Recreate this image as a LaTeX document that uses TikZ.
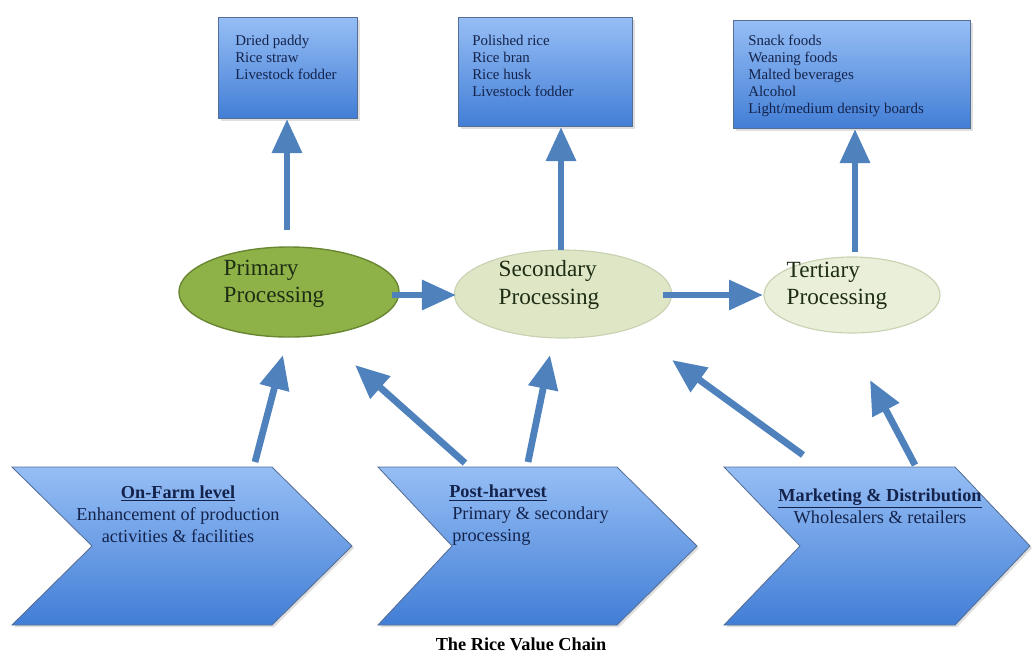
\documentclass[tikz,border=0pt]{standalone}
\usepackage{fontspec}
\setmainfont{Liberation Serif}
\usetikzlibrary{arrows.meta,shapes.geometric,shadows}
\definecolor{arrowblue}{RGB}{79,129,189}
\definecolor{boxtop}{RGB}{150,190,245}
\definecolor{boxbottom}{RGB}{66,126,214}
\definecolor{boxline}{RGB}{85,110,150}
\definecolor{inktext}{RGB}{20,35,75}
\definecolor{greendark}{RGB}{143,178,72}
\definecolor{greenline}{RGB}{105,135,50}
\definecolor{greenpale}{RGB}{222,230,198}
\definecolor{greenpaler}{RGB}{233,239,216}
\definecolor{paleline}{RGB}{200,210,178}
\definecolor{stageink}{RGB}{30,45,20}
\tikzset{
  outbox/.style={draw=boxline, line width=0.8pt, top color=boxtop, bottom color=boxbottom,
    minimum width=#1, inner sep=0pt, anchor=north west,
    drop shadow={opacity=0.25, shadow xshift=1.5pt, shadow yshift=-1.5pt}},
  outtext/.style={anchor=north west, align=left, text=inktext, font=\fontsize{10.6}{12}\selectfont, inner sep=0pt},
  stage/.style={ellipse, inner sep=0pt},
  stagetext/.style={align=left, text=stageink, font=\fontsize{16.5}{19.5}\selectfont, inner sep=0pt},
  chevron/.style={draw=boxline, line width=0.6pt, top color=boxtop, bottom color=boxbottom,
    drop shadow={opacity=0.25, shadow xshift=1.5pt, shadow yshift=-1.5pt}},
  chevtext/.style={text=inktext, font=\fontsize{13}{15.5}\selectfont, inner sep=0pt},
  flow/.style={draw=arrowblue, line width=0.17cm, -{Triangle[width=0.72cm,length=0.85cm]}}
}
\begin{document}
\begin{tikzpicture}[x=0.025cm,y=-0.025cm]
  \useasboundingbox (0,0) rectangle (1032,659);

  % output boxes
  \node[outbox=3.475cm, minimum height=2.525cm] (box1) at (218,17) {};
  \node[outbox=4.35cm, minimum height=2.725cm] (box2) at (458,17) {};
  \node[outbox=5.925cm, minimum height=2.7cm] (box3) at (733,20) {};
  \node[outtext] (list1) at (235,35) {Dried paddy\\Rice straw\\Livestock fodder};
  \node[outtext] (list2) at (472,35) {Polished rice\\Rice bran\\Rice husk\\Livestock fodder};
  \node[outtext] (list3) at (748,35) {Snack foods\\Weaning foods\\Malted beverages\\Alcohol\\Light/medium density boards};

  % processing stages
  \node[stage, fill=greendark, draw=greenline, line width=1pt, minimum width=5.5cm, minimum height=2.25cm] (prim) at (289,292) {};
  \node[stage, fill=greenpale, draw=paleline, line width=0.8pt, minimum width=5.43cm, minimum height=2.2cm] (sec) at (563,294) {};
  \node[stage, fill=greenpaler, draw=paleline, line width=0.8pt, minimum width=4.4cm, minimum height=1.9cm] (ter) at (852,295) {};
  \node[stagetext] (primname) at (274,284) {Primary\\Processing};
  \node[stagetext] (secname) at (549,285) {Secondary\\Processing};
  \node[stagetext] (tername) at (837,286) {Tertiary\\Processing};

  % value chain levels
  \draw[chevron] (12,467) -- (272,467) -- (352,546) -- (272,625) -- (12,625) -- (92,546) -- cycle;
  \draw[chevron] (378,467) -- (617,467) -- (697,546) -- (617,625) -- (378,625) -- (452,546) -- cycle;
  \draw[chevron] (724,467) -- (955,467) -- (1030,546) -- (955,625) -- (724,625) -- (800,546) -- cycle;
  \node[chevtext, align=center] (farm) at (178,514) {\underline{\textbf{On-Farm level}}\\Enhancement of production\\activities \& facilities};
  \node[chevtext, align=left, anchor=north west] (post) at (449,485) {\underline{\textbf{Post-harvest}}\\\,Primary \& secondary\\\,processing};
  \node[chevtext, align=center] (market) at (880,506) {\underline{\textbf{Marketing \& Distribution}}\\Wholesalers \& retailers};

  % arrow ends
  \coordinate (v1s) at (287,230); \coordinate (v1e) at (287,119);
  \coordinate (v2s) at (561,250); \coordinate (v2e) at (561,127);
  \coordinate (v3s) at (855,252); \coordinate (v3e) at (855,129);
  \coordinate (h1s) at (392,295); \coordinate (h1e) at (456,295);
  \coordinate (h2s) at (663,295); \coordinate (h2e) at (763,295);
  \coordinate (d1s) at (255,462); \coordinate (d1e) at (283,355);
  \coordinate (d2s) at (465,463); \coordinate (d2e) at (355,365);
  \coordinate (d3s) at (528,462); \coordinate (d3e) at (550,355);
  \coordinate (d4s) at (803,455); \coordinate (d4e) at (672,360);
  \coordinate (d5s) at (915,465); \coordinate (d5e) at (870,380);

  \draw[flow] (v1s) -- (v1e);
  \draw[flow] (v2s) -- (v2e);
  \draw[flow] (v3s) -- (v3e);
  \draw[flow] (h1s) -- (h1e);
  \draw[flow] (h2s) -- (h2e);
  \draw[flow] (d1s) -- (d1e);
  \draw[flow] (d2s) -- (d2e);
  \draw[flow] (d3s) -- (d3e);
  \draw[flow] (d4s) -- (d4e);
  \draw[flow] (d5s) -- (d5e);

  \node[font=\fontsize{13}{15}\selectfont\bfseries] (title) at (521,644) {The Rice Value Chain};
\end{tikzpicture}
\end{document}
